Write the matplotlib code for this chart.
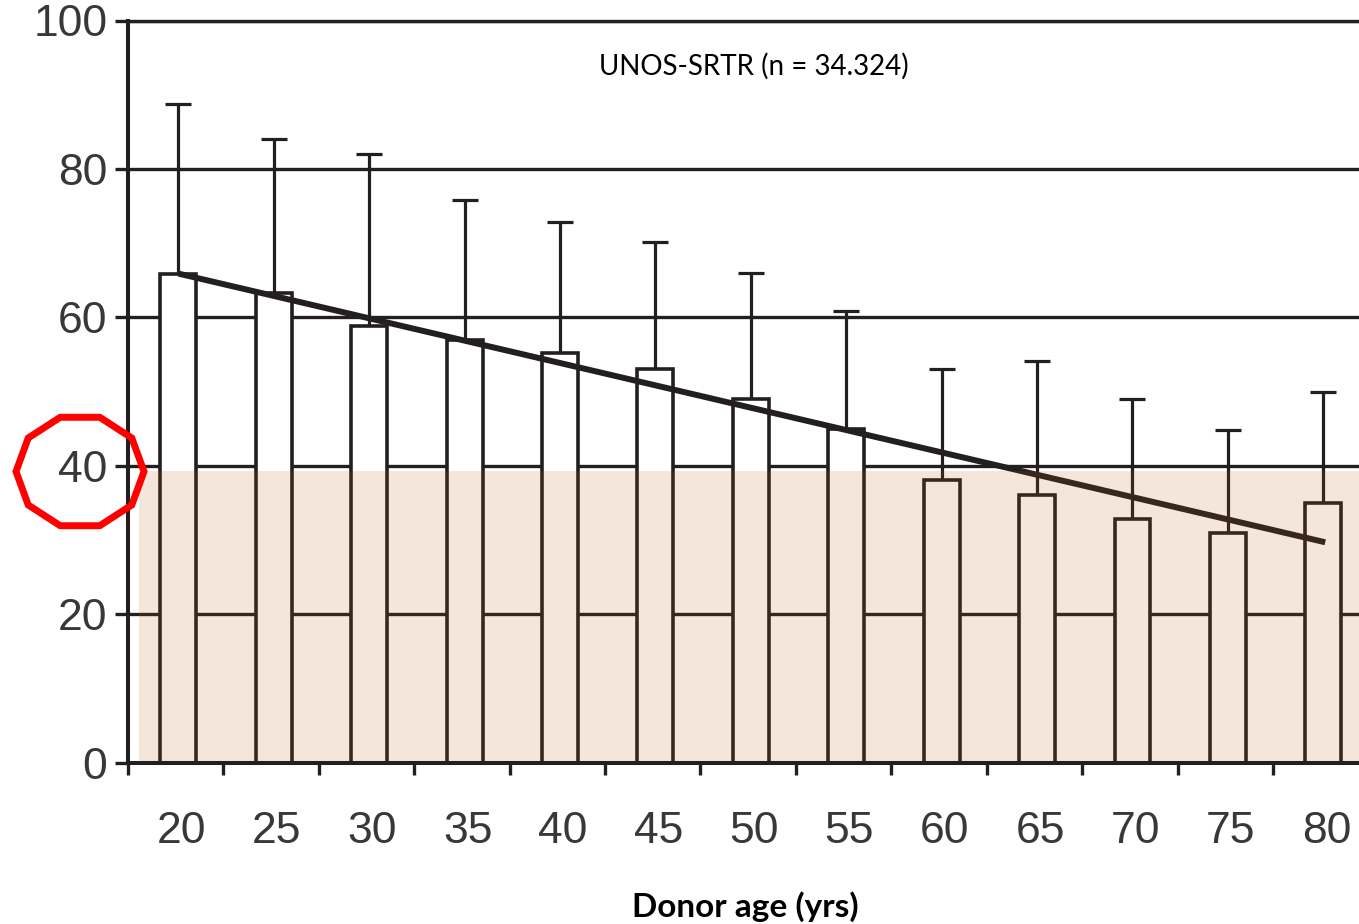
import numpy as np
import matplotlib
matplotlib.use("Agg")
import matplotlib.pyplot as plt
from matplotlib.patches import Rectangle, Polygon
from matplotlib.ticker import FixedLocator
import matplotlib.transforms as mtransforms

# ---- data ----
ages = [20, 25, 30, 35, 40, 45, 50, 55, 60, 65, 70, 75, 80]
age_labels = ["20", "25", "30", "35", "40", "45", "50", "55", "60", "65", "70", "75", "80"]
bar_mean = [65.9, 63.3, 58.8, 57.0, 55.2, 53.0, 49.0, 45.0, 38.1, 36.1, 32.9, 31.0, 35.0]
err_top = [88.7, 84.0, 82.0, 75.8, 72.8, 70.2, 66.0, 60.9, 53.0, 54.1, 49.0, 44.8, 49.9]
trend_x = [20.0, 80.1]
trend_y = [65.9, 29.7]
shade_top = 39.3
y_ticks = [0, 20, 40, 60, 80, 100]
title_text = "UNOS-SRTR (n = 34.324)"
xlabel_text = "Donor age (yrs)"

LINE = "#231f20"
W, H = 1359, 924

fig = plt.figure(figsize=(W / 100, H / 100), dpi=100)
fig.patch.set_facecolor("white")
ax = fig.add_axes([128 / W, (H - 762.7) / H, (W - 128) / W, 742.2 / H])

x_left = 17.36
x_right = 81.87
ax.set_xlim(x_left, x_right)
ax.set_ylim(0, 100)

# grid
ax.set_axisbelow(True)
ax.set_yticks(y_ticks)
ax.yaxis.grid(True, color=LINE, linewidth=2.4)

# bars
ax.bar(ages, bar_mean, width=1.885, color="white", edgecolor=LINE,
       linewidth=2.6, zorder=2)

# error bars (upper only)
err_up = np.array(err_top) - np.array(bar_mean)
eb = ax.errorbar(ages, bar_mean, yerr=[np.zeros(len(ages)), err_up], fmt="none",
                 ecolor=LINE, elinewidth=2.3, capsize=9.7, capthick=2.3, zorder=1.9)
caplines = eb[1]
if len(caplines) == 2:
    caplines[0].set_visible(False)

# trend line
ax.plot(trend_x, trend_y, color=LINE, linewidth=4.3, solid_capstyle="butt", zorder=3)

# shaded band overlay
shade_x0 = 17.92
ax.add_patch(Rectangle((shade_x0, 0), x_right - shade_x0, shade_top,
                       facecolor=(188 / 255, 88 / 255, 15 / 255), alpha=0.15,
                       edgecolor="none", zorder=4))

# spines
ax.spines["right"].set_visible(False)
ax.spines["top"].set_linewidth(2.4)
ax.spines["left"].set_linewidth(2.9)
ax.spines["bottom"].set_linewidth(2.9)
for s in ["top", "left", "bottom"]:
    ax.spines[s].set_color(LINE)
    ax.spines[s].set_zorder(5)

# y ticks
ax.tick_params(axis="y", which="major", direction="out", length=9.4, width=2.4,
               color=LINE, pad=5.5, labelsize=32, labelcolor="#383838")
for t in ax.get_yticklabels():
    t.set_fontfamily("Liberation Sans")

# x ticks: labels at bars, tick marks between
ax.set_xticks(ages)
ax.set_xticklabels(age_labels)
ax.tick_params(axis="x", which="major", length=0, pad=35, labelsize=32,
               labelcolor="#383838")
offset = mtransforms.ScaledTranslation(3 / 100, 0, fig.dpi_scale_trans)
for t in ax.get_xticklabels():
    t.set_fontfamily("Liberation Sans")
    t.set_transform(t.get_transform() + offset)
ax.xaxis.set_minor_locator(FixedLocator([a - 2.64 for a in ages]))
ax.tick_params(axis="x", which="minor", direction="out", length=8.6, width=2.4,
               color=LINE)

# title and x label
fig.text(753.5 / W, 1 - 75 / H, title_text, ha="center", va="baseline",
         fontsize=20, family="Lato", color="black")
fig.text(745 / W, 1 - 917 / H, xlabel_text, ha="center", va="baseline",
         fontsize=24, family="Lato", fontweight="bold", color="black")

# red decagon annotation around "40"
cx, cy, rx, ry = 80, 471.5, 64, 57
ang = np.deg2rad(np.arange(0, 360, 36))
verts = [((cx + rx * np.cos(a)) / W, 1 - (cy - ry * np.sin(a)) / H) for a in ang]
fig.patches.append(Polygon(verts, closed=True, fill=False, edgecolor="#ff0000",
                           linewidth=5, joinstyle="miter", transform=fig.transFigure,
                           figure=fig, zorder=10))

fig.savefig("out.png", dpi=100)
